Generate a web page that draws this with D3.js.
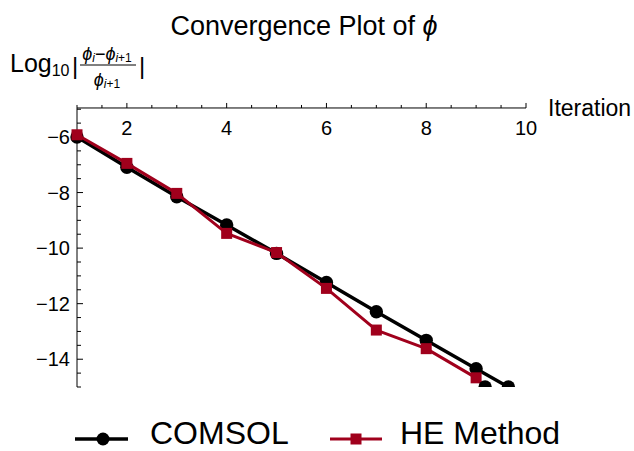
<!DOCTYPE html>
<html>
<head>
  <meta charset='utf-8'>
  <script src='https://d3js.org/d3.v7.min.js'></script>
  <style>
    body { margin: 0; background: white; }
    svg { font-family: 'Liberation Sans', Arial, sans-serif; }
  </style>
</head>
<body>
<script type='text/javascript'>
  'use strict';

  // chart data
  var iterations = [1, 2, 3, 4, 5, 6, 7, 8, 9, 10];
  var comsol = [-6.0, -7.09, -8.15, -9.17, -10.19, -11.24, -12.29, -13.32, -14.34, -15.36];
  var heMethod = [-5.92, -6.95, -8.03, -9.47, -10.16, -11.45, -12.95, -13.62, -14.67, -16.5];
  var xTicks = [2, 4, 6, 8, 10];
  var yTicks = [-6, -8, -10, -12, -14];
  var seriesNames = ['COMSOL', 'HE Method'];

  var width = 634, height = 451;
  var red = '#a0001c';

  var svg = d3.select('body').append('svg')
    .attr('width', width)
    .attr('height', height);

  var x = d3.scaleLinear().domain([1, 10]).range([77, 526]);
  var y = d3.scaleLinear().domain([-6, -15]).range([137, 387]);
  var yTop = -4.955;

  // title
  var title = svg.append('text')
    .attr('x', 304).attr('y', 35)
    .attr('text-anchor', 'middle')
    .style('font-size', '27px');
  title.append('tspan').text('Convergence Plot of ');
  title.append('tspan').style('font-style', 'italic').text('ϕ');

  // clip region: rows between top of axis and -15
  svg.append('clipPath').attr('id', 'plotclip')
    .append('rect')
    .attr('x', 0).attr('y', y(yTop) - 10)
    .attr('width', width).attr('height', y(-15) - y(yTop) + 10);

  // x axis at the top, ticks pointing up
  var xAxisY = y(yTop);
  svg.append('line')
    .attr('x1', x(1)).attr('x2', x(10))
    .attr('y1', xAxisY).attr('y2', xAxisY)
    .attr('stroke', '#000').attr('stroke-width', 1);
  d3.range(1, 10.01, 0.5).forEach(function(v) {
    var major = xTicks.indexOf(v) >= 0;
    svg.append('line')
      .attr('x1', x(v)).attr('x2', x(v))
      .attr('y1', xAxisY).attr('y2', xAxisY - (major ? 5 : 3))
      .attr('stroke', '#000').attr('stroke-width', 1);
  });
  svg.selectAll('.xlab').data(xTicks).enter().append('text')
    .attr('class', 'xlab')
    .attr('x', function(d) { return x(d); })
    .attr('y', 135)
    .attr('text-anchor', 'middle')
    .style('font-size', '20px')
    .text(function(d) { return d; });
  svg.append('text')
    .attr('x', 548).attr('y', 116)
    .style('font-size', '23px')
    .text('Iteration');

  // y axis on the left, ticks pointing right
  svg.append('line')
    .attr('x1', x(1)).attr('x2', x(1))
    .attr('y1', xAxisY).attr('y2', y(-15))
    .attr('stroke', '#000').attr('stroke-width', 1);
  d3.range(-5, -15.01, -0.5).forEach(function(v) {
    var major = yTicks.indexOf(v) >= 0;
    svg.append('line')
      .attr('x1', x(1)).attr('x2', x(1) + (major ? 6 : 4))
      .attr('y1', y(v)).attr('y2', y(v))
      .attr('stroke', '#000').attr('stroke-width', 1);
  });
  svg.selectAll('.ylab').data(yTicks).enter().append('text')
    .attr('class', 'ylab')
    .attr('x', 70)
    .attr('y', function(d) { return y(d) + 7; })
    .attr('text-anchor', 'end')
    .style('font-size', '20px')
    .text(function(d) { return '\u2212' + Math.abs(d); });

  // y label: Log10 | (phi_i - phi_i+1) / phi_i+1 |
  var ylab = svg.append('g');
  var t1 = ylab.append('text').attr('x', 10).attr('y', 72).style('font-size', '25px');
  t1.append('tspan').text('Log');
  t1.append('tspan').attr('dy', 4).style('font-size', '16px').text('10');
  ylab.append('text').attr('x', 72).attr('y', 74).style('font-size', '24px').text('|');
  ylab.append('text').attr('x', 139).attr('y', 74).style('font-size', '24px').text('|');
  var num = ylab.append('text').attr('x', 107).attr('y', 60)
    .attr('text-anchor', 'middle').style('font-size', '18px');
  num.append('tspan').style('font-style', 'italic').text('ϕ');
  num.append('tspan').attr('dy', 2).style('font-size', '12px').style('font-style', 'italic').text('i');
  num.append('tspan').attr('dy', -2).text('\u2212');
  num.append('tspan').style('font-style', 'italic').text('ϕ');
  var nsub = num.append('tspan').attr('dy', 2).style('font-size', '12px');
  nsub.append('tspan').style('font-style', 'italic').text('i');
  nsub.append('tspan').text('+1');
  ylab.append('line').attr('x1', 80).attr('x2', 136).attr('y1', 65).attr('y2', 65)
    .attr('stroke', '#000').attr('stroke-width', 1);
  var den = ylab.append('text').attr('x', 107).attr('y', 86)
    .attr('text-anchor', 'middle').style('font-size', '18px');
  den.append('tspan').style('font-style', 'italic').text('ϕ');
  var sub = den.append('tspan').attr('dy', 2).style('font-size', '12px');
  sub.append('tspan').style('font-style', 'italic').text('i');
  sub.append('tspan').text('+1');

  // series
  var plot = svg.append('g').attr('clip-path', 'url(#plotclip)');
  var line = d3.line()
    .x(function(d) { return x(d[0]); })
    .y(function(d) { return y(d[1]); });
  var comsolPts = iterations.map(function(v, i) { return [v, comsol[i]]; });
  var hePts = iterations.map(function(v, i) { return [v, heMethod[i]]; });

  // where a series leaves the plot at the bottom
  function exitPoint(pts) {
    for (var i = 1; i < pts.length; i++) {
      if (pts[i][1] < -15 && pts[i - 1][1] >= -15) {
        var t = (-15 - pts[i - 1][1]) / (pts[i][1] - pts[i - 1][1]);
        return [pts[i - 1][0] + t * (pts[i][0] - pts[i - 1][0]), -15];
      }
    }
    return null;
  }
  function visible(pts) {
    return pts.filter(function(d) { return d[1] >= -15; });
  }

  plot.append('path').datum(comsolPts)
    .attr('d', line).attr('fill', 'none')
    .attr('stroke', '#000').attr('stroke-width', 3.5)
    .attr('stroke-linejoin', 'round');
  plot.selectAll('.cdot').data(visible(comsolPts)).enter().append('circle')
    .attr('class', 'cdot')
    .attr('cx', function(d) { return x(d[0]); })
    .attr('cy', function(d) { return y(d[1]); })
    .attr('r', 6.7).attr('fill', '#000');

  plot.append('path').datum(hePts)
    .attr('d', line).attr('fill', 'none')
    .attr('stroke', red).attr('stroke-width', 3)
    .attr('stroke-linejoin', 'round');
  plot.selectAll('.hsq').data(visible(hePts)).enter().append('rect')
    .attr('class', 'hsq')
    .attr('x', function(d) { return x(d[0]) - 5.5; })
    .attr('y', function(d) { return y(d[1]) - 5.5; })
    .attr('width', 11).attr('height', 11).attr('fill', red);

  // markers where the lines are cut by the plot range
  [exitPoint(hePts), exitPoint(comsolPts)].forEach(function(p) {
    if (!p) return;
    plot.append('circle')
      .attr('cx', x(p[0])).attr('cy', y(p[1]))
      .attr('r', 6.7).attr('fill', '#000');
  });

  // legend
  var leg = svg.append('g');
  leg.append('line').attr('x1', 75).attr('x2', 128).attr('y1', 439).attr('y2', 439)
    .attr('stroke', '#000').attr('stroke-width', 3.5);
  leg.append('circle').attr('cx', 103).attr('cy', 439).attr('r', 6.5).attr('fill', '#000');
  leg.append('text').attr('x', 150).attr('y', 444).style('font-size', '32px').text(seriesNames[0]);
  leg.append('line').attr('x1', 330).attr('x2', 382).attr('y1', 439).attr('y2', 439)
    .attr('stroke', red).attr('stroke-width', 3);
  leg.append('rect').attr('x', 350.5).attr('y', 433.5).attr('width', 11).attr('height', 11).attr('fill', red);
  leg.append('text').attr('x', 400).attr('y', 444).style('font-size', '32px').text(seriesNames[1]);
</script>
</body>
</html>
